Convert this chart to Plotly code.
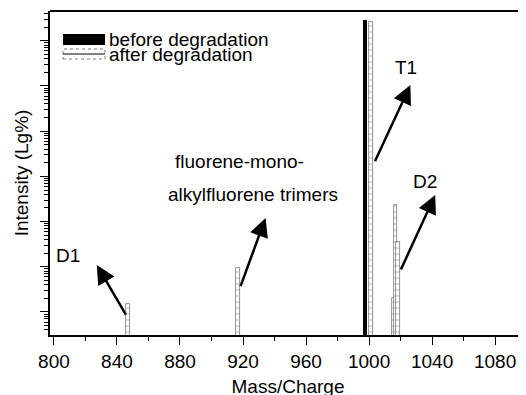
import plotly.graph_objects as go

# ---- data ----
before_mz = [997.5]
before_int = [288.0]

after_mz = [847.0, 916.8, 1001.3, 1015.6, 1016.8, 1018.4]
after_int = [1.50e-4, 9.4e-4, 260.0, 2.04e-4, 2.33e-2, 3.54e-3]

x_ticks = [800, 840, 880, 920, 960, 1000, 1040, 1080]

legend_names = ["before degradation", "after degradation"]

# annotation positions (data coords: x in m/z, y in log10 units)
labels = [
    ("D1", 808.9, -2.74),
    ("T1", 1023.6, 1.40),
    ("D2", 1035.6, -1.12),
]
trimer_lines = [("fluorene-mono-", 875.4, -0.66), ("alkylfluorene trimers", 871.0, -1.41)]
arrows = [  # (tip_x, tip_y, tail_x, tail_y)
    (827.2, -2.96, 846.2, -4.09),
    (934.3, -1.92, 918.1, -3.46),
    (1026.2, 1.02, 1003.3, -0.70),
    (1042.0, -1.41, 1019.8, -3.09),
]

FONT = "Liberation Sans, Arial, sans-serif"

fig = go.Figure()
fig.add_trace(go.Bar(
    x=before_mz, y=before_int, width=2.5,
    marker=dict(color="black", line=dict(width=0)),
    name=legend_names[0], showlegend=False,
))
fig.add_trace(go.Bar(
    x=after_mz, y=after_int, width=2.3,
    marker=dict(color="white", line=dict(color="#777", width=0.8),
                pattern=dict(shape="-", fgcolor="#666", size=6, solidity=0.15)),
    name=legend_names[1], showlegend=False,
))

annotations = []
for t, x, y in labels:
    annotations.append(dict(x=x, y=y, text=t, showarrow=False,
                            font=dict(size=19, color="black", family=FONT)))
for t, x, y in trimer_lines:
    annotations.append(dict(x=x, y=y, text=t, showarrow=False, xanchor="left",
                            font=dict(size=19, color="black", family=FONT)))
for tx, ty, sx, sy in arrows:
    annotations.append(dict(x=tx, y=ty, ax=sx, ay=sy, axref="x", ayref="y",
                            text="", showarrow=True, arrowhead=2, arrowsize=1.5,
                            arrowwidth=2.5, arrowcolor="black"))


# plot area on screen: x 50..526, y 11..335
def px_to_paper_x(px):
    return (px - 50) / 476


def px_to_paper_y(py):
    return 1 - (py - 11) / 324


# manual legend text
annotations.append(dict(xref="paper", yref="paper", x=px_to_paper_x(107), y=px_to_paper_y(40),
                        xanchor="left", yanchor="middle", text=legend_names[0], showarrow=False,
                        font=dict(size=19, color="black", family=FONT)))
annotations.append(dict(xref="paper", yref="paper", x=px_to_paper_x(107), y=px_to_paper_y(55),
                        xanchor="left", yanchor="middle", text=legend_names[1], showarrow=False,
                        font=dict(size=19, color="black", family=FONT)))

shapes = [
    dict(type="line", xref="paper", yref="paper", x0=0, x1=1, y0=1, y1=1,
         line=dict(color="black", width=2)),
    dict(type="rect", xref="paper", yref="paper",
         x0=px_to_paper_x(63), x1=px_to_paper_x(105), y0=px_to_paper_y(45), y1=px_to_paper_y(34),
         fillcolor="black", line=dict(width=0)),
    dict(type="rect", xref="paper", yref="paper",
         x0=px_to_paper_x(63), x1=px_to_paper_x(105), y0=px_to_paper_y(59), y1=px_to_paper_y(49),
         fillcolor="white", line=dict(color="#555", width=0.8, dash="dot")),
    dict(type="line", xref="paper", yref="paper",
         x0=px_to_paper_x(63), x1=px_to_paper_x(105), y0=px_to_paper_y(54), y1=px_to_paper_y(54),
         line=dict(color="black", width=1)),
]

# page body adds an 8px offset: compensate in the margins
fig.update_layout(
    width=526, height=395,
    margin=dict(l=42, r=8, t=3, b=68),
    paper_bgcolor="white", plot_bgcolor="white",
    bargap=0, barmode="overlay",
    font=dict(family=FONT, size=19, color="black"),
    annotations=annotations, shapes=shapes,
    showlegend=False,
)
fig.update_xaxes(
    range=[797.5, 1099.6], tickvals=x_ticks, ticktext=[str(v) for v in x_ticks],
    showline=True, linecolor="black", linewidth=2, ticks="outside", ticklen=8, tickwidth=1.3,
    tickcolor="black", showgrid=False, zeroline=False, automargin=False,
    minor=dict(dtick=20, tick0=800, ticks="outside", ticklen=4, tickcolor="black", tickwidth=1.2),
    title=dict(text="Mass/Charge", font=dict(size=19), standoff=9),
    tickfont=dict(size=19),
)
fig.update_yaxes(
    type="log", range=[-4.509, 2.659], dtick=1,
    showline=True, linecolor="black", linewidth=2, ticks="outside", ticklen=8, tickwidth=1.3,
    tickcolor="black", showgrid=False, zeroline=False, showticklabels=False, automargin=False,
    minor=dict(dtick="D1", ticks="outside", ticklen=4, tickcolor="black", tickwidth=1.2),
    title=dict(text="Intensity (Lg%)", font=dict(size=19), standoff=6),
)

fig.write_html("out.html")
